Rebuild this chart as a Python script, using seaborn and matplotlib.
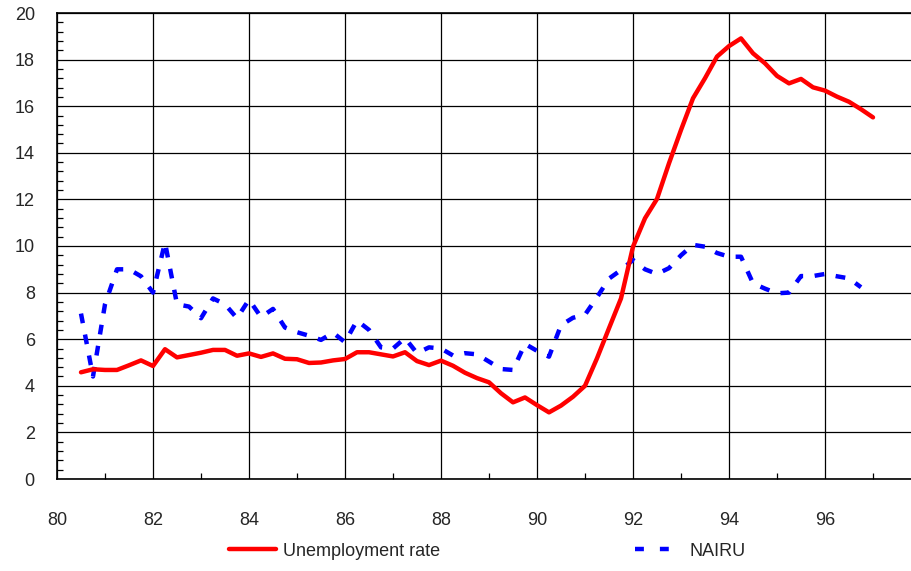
import numpy as np
import pandas as pd
import matplotlib
matplotlib.use("Agg")
import matplotlib.pyplot as plt
from matplotlib.lines import Line2D
from matplotlib.ticker import MultipleLocator
import seaborn as sns

# quarterly observations, 1980Q3 .. 1997Q1
unemployment = [
    4.58, 4.71, 4.68, 4.68, 4.88, 5.09, 4.85, 5.57, 5.22, 5.32,
    5.42, 5.54, 5.54, 5.29, 5.39, 5.24, 5.39, 5.16, 5.14, 4.98,
    5.00, 5.09, 5.15, 5.44, 5.44, 5.35, 5.26, 5.44, 5.06, 4.89,
    5.08, 4.86, 4.56, 4.33, 4.15, 3.68, 3.29, 3.50, 3.17, 2.86,
    3.15, 3.53, 4.00, 5.18, 6.47, 7.75, 9.97, 11.19, 12.02, 13.55,
    14.98, 16.34, 17.20, 18.13, 18.58, 18.91, 18.27, 17.84, 17.30, 16.98,
    17.17, 16.81, 16.67, 16.41, 16.19, 15.87, 15.52,
]
nairu = [
    7.10, 4.40, 7.50, 9.00, 9.00, 8.70, 8.00, 10.15, 7.50, 7.40,
    6.90, 7.75, 7.50, 6.90, 7.70, 6.95, 7.30, 6.50, 6.30, 6.15,
    5.97, 6.28, 5.87, 6.80, 6.40, 5.65, 5.60, 6.05, 5.40, 5.65,
    5.60, 5.30, 5.40, 5.35, 5.04, 4.72, 4.68, 5.80, 5.50, 5.25,
    6.60, 6.92, 7.05, 7.80, 8.60, 8.97, 9.40, 9.00, 8.80, 9.05,
    9.60, 10.05, 9.97, 9.70, 9.54, 9.54, 8.40, 8.17, 7.97, 8.00,
    8.71, 8.71, 8.80, 8.70, 8.61, 8.23,
]
start_year = 80.5
quarter = 0.25

years_u = start_year + quarter * np.arange(len(unemployment))
years_n = start_year + quarter * np.arange(len(nairu))

df_u = pd.DataFrame({"year": years_u, "value": unemployment})
df_n = pd.DataFrame({"year": years_n, "value": nairu})

sns.set_theme(style="white")
plt.rcParams['font.family'] = ['Liberation Sans', 'DejaVu Sans']

fig = plt.figure(figsize=(9.11, 5.71), dpi=100)
ax = fig.add_axes([57 / 911, 1 - 479 / 571, 1 - 57 / 911, (479 - 13) / 571])

sns.lineplot(data=df_u, x="year", y="value", ax=ax, color="#ff0000",
             linewidth=3.2, zorder=4)
sns.lineplot(data=df_n, x="year", y="value", ax=ax, color="#0000ff",
             linewidth=3.2, zorder=3)
ax.lines[1].set_dashes([2.2, 2.6])
ax.lines[1].set_dash_capstyle("butt")

ax.set_xlim(80, 80 + (911 - 57) / 48)
ax.set_ylim(0, 20)
ax.set_xticks(np.arange(80, 97, 2))
ax.xaxis.set_minor_locator(MultipleLocator(1))
ax.yaxis.set_major_locator(MultipleLocator(2))
ax.yaxis.set_minor_locator(MultipleLocator(0.4))

ax.grid(True, which="major", color="black", linewidth=0.9)
ax.tick_params(axis="x", which="major", length=0, pad=24, labelsize=13)
ax.tick_params(axis="y", which="major", length=0, pad=16, labelsize=13)
ax.tick_params(axis="x", which="minor", direction="in", length=4.3, width=0.9,
               color="black", bottom=True)
ax.tick_params(axis="y", which="minor", direction="in", length=4.3, width=0.9,
               color="black", left=True)

for side in ["left", "bottom", "top"]:
    ax.spines[side].set_color("black")
    ax.spines[side].set_linewidth(1.2)
ax.spines["right"].set_visible(False)

ax.set_xlabel("")
ax.set_ylabel("")

handles = [
    Line2D([], [], color="#ff0000", linewidth=3.2, solid_capstyle="round"),
    Line2D([], [], color="#0000ff", linewidth=3.2, dashes=[2.0, 3.6],
           dash_capstyle="butt"),
]
labels = ["Unemployment rate", "NAIRU"]
fig.legend(handles, labels, loc="center left", bbox_to_anchor=(220 / 911, 0.035),
           ncol=2, frameon=False, fontsize=13, handlelength=2.6,
           handletextpad=0.4, columnspacing=10.8, borderpad=0)

fig.savefig("out.png", dpi=100)
